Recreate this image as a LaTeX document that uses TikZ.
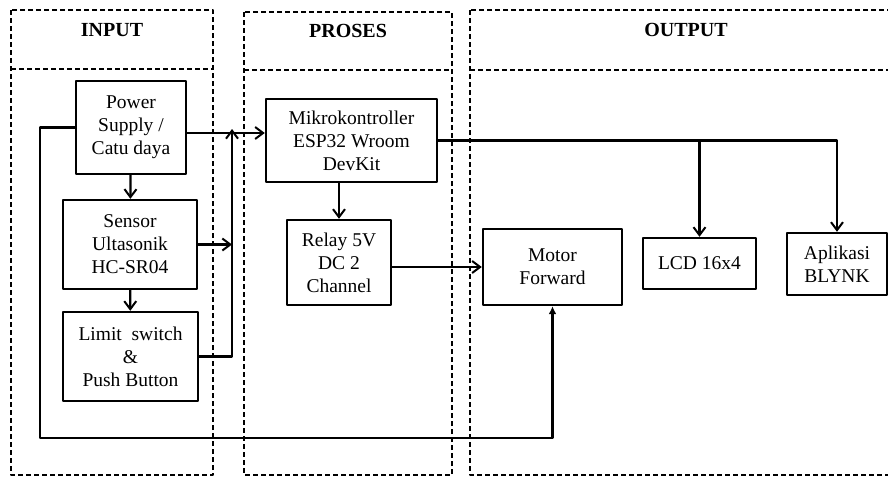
\documentclass[tikz,border=0pt]{standalone}
\usepackage{fontspec}
\setmainfont{Liberation Serif}
\usetikzlibrary{arrows.meta}
\begin{document}
\begin{tikzpicture}[x=1pt, y=-1pt, line join=round, font=\fontsize{19.5}{23}\selectfont,
		blok/.style={draw, line width=2.4pt, align=center, inner sep=1pt},
		panel/.style={line width=1.8pt, dash pattern=on 5pt off 3pt},
		judul/.style={font=\fontsize{20}{23}\selectfont\bfseries},
		alur/.style={line width=2.2pt, -{Straight Barb[length=8pt, width=12pt, line width=2pt]}}]
	\useasboundingbox (0,0) rectangle (888,477);
	% kolom input / proses / output
	\draw[panel] (11,10) rectangle (213,475) (11,69)--(213,69);
	\draw[panel] (244,12) rectangle (452,475) (244,70)--(452,70);
	\draw[panel] (470,10) rectangle (900,475) (470,70)--(900,70);
	\node[judul] (hin) at (112,30) {INPUT};
	\node[judul] (hpr) at (348,31) {PROSES};
	\node[judul] (hout) at (686,30) {OUTPUT};
	% blok
	\node[blok, minimum width=110, minimum height=93] (psu) at (131,127.5) {Power\\Supply /\\Catu daya};
	\node[blok, minimum width=134, minimum height=89] (sensor) at (130,244.5) {Sensor\\Ultasonik\\HC-SR04};
	\node[blok, minimum width=135, minimum height=89] (limit) at (130.5,356.5) {Limit\ \ switch\\\&\\Push Button};
	\node[blok, minimum width=171, minimum height=83] (mcu) at (351.5,140.5) {Mikrokontroller\\ESP32 Wroom\\DevKit};
	\node[blok, minimum width=104, minimum height=85] (relay) at (339,262.5) {Relay 5V\\DC 2\\Channel};
	\node[blok, minimum width=139, minimum height=76] (motor) at (552.5,267) {Motor\\Forward};
	\node[blok, minimum width=113, minimum height=51] (lcd) at (699.5,263.5) {LCD 16x4};
	\node[blok, minimum width=100, minimum height=62] (blynk) at (837,264) {Aplikasi\\BLYNK};
	\coordinate (bus) at (232,133);
	\coordinate (loop) at (40,438);
	% sambungan
	\draw[alur] (psu.east |- bus) -- (mcu.west |- bus);
	\draw[alur] (psu) -- (sensor);
	\draw[alur] (sensor) -- (limit);
	\draw[alur] (sensor.east) -- (bus |- sensor.east);
	\draw[alur] (limit.east) -| ([yshift=4pt]bus);
	\draw[line width=2.2pt, -{Latex[length=8pt, width=8pt]}] (psu.west) -| (loop) -| (motor.south);
	\draw[alur] (relay.north |- mcu.south) -- (relay.north);
	\draw[alur] (relay.east |- motor.west) -- (motor.west);
	\draw[alur] (mcu.east) -| (blynk.north);
	\draw[alur] (lcd.north |- mcu.east) -- (lcd.north);
\end{tikzpicture}
\end{document}
